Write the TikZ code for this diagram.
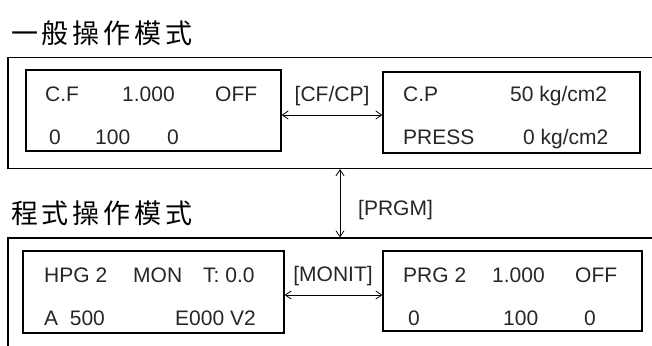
\documentclass[tikz,border=0pt]{standalone}
\usepackage{fontspec}
\setmainfont{Liberation Sans}
\newfontfamily\cjk[LetterSpace=14]{Noto Sans CJK TC}
\usetikzlibrary{arrows.meta}

\newcommand*{\picW}{652}
\newcommand*{\picH}{345}
\newcommand*{\arrowX}{340}

\tikzset{
  frame/.style={draw, line width=1.1pt, inner sep=0pt, minimum width=700},
  lcd/.style={draw, line width=1.1pt, inner sep=0pt},
  txt/.style={anchor=base west, inner sep=0pt, text=black!85, font=\fontsize{21}{21}\selectfont},
  key/.style={anchor=base, inner sep=0pt, text=black!85, font=\fontsize{21}{21}\selectfont},
  title/.style={anchor=west, inner sep=0pt, font=\fontsize{27}{27}\selectfont\cjk},
  toggle/.style={{Straight Barb[length=6pt,width=8pt]}-{Straight Barb[length=6pt,width=8pt]}, line width=0.8pt}
}

\begin{document}
\begin{tikzpicture}[x=1pt,y=-1pt]
\useasboundingbox (0,0) rectangle (\picW,\picH);
\clip (0,0) rectangle (\picW,\picH);

% mode titles and frames
\node[title] (normal) at (11,33) {一般操作模式};
\node[title] (prog) at (11,213) {程式操作模式};
\node[frame, minimum height=111] (normalframe) at (358,113) {};
\node[frame, minimum height=162] (progframe) at (358,319) {};

% display boxes
\node[lcd, minimum width=255, minimum height=81] (cf) at (153.5,110.5) {};
\node[lcd, minimum width=257, minimum height=81] (cp) at (511.5,112.5) {};
\node[lcd, minimum width=261, minimum height=82] (hpg) at (153.5,292) {};
\node[lcd, minimum width=259, minimum height=80] (prg) at (512.5,291) {};

% display texts
\node[txt] (cf1) at (45,101) {C.F};
\node[txt] (cf2) at (122,101) {1.000};
\node[txt] (cf3) at (215,101) {OFF};
\node[txt] (cf4) at (49,144) {0};
\node[txt] (cf5) at (95,144) {100};
\node[txt] (cf6) at (167,144) {0};

\node[txt] (cp1) at (403,101) {C.P};
\node[txt] (cp2) at (510,101) {50 kg/cm2};
\node[txt] (cp3) at (403,144) {PRESS};
\node[txt] (cp4) at (523,144) {0 kg/cm2};

\node[txt] (hpg1) at (44,282) {HPG 2};
\node[txt] (hpg2) at (133,282) {MON};
\node[txt] (hpg3) at (203,282) {T: 0.0};
\node[txt] (hpg4) at (44,325) {A\ \ 500};
\node[txt] (hpg5) at (175,325) {E000 V2};

\node[txt] (prg1) at (403,282) {PRG 2};
\node[txt] (prg2) at (492,282) {1.000};
\node[txt] (prg3) at (575,282) {OFF};
\node[txt] (prg4) at (408,325) {0};
\node[txt] (prg5) at (503,325) {100};
\node[txt] (prg6) at (584,325) {0};

% keys
\node[key] (cfcp) at (332,101) {[CF/CP]};
\node[key] (monit) at (333,281) {[MONIT]};
\node[txt] (prgm) at (358,215) {[PRGM]};
\coordinate (prgmx) at (\arrowX,200);

\draw[toggle] ([yshift=-4.5pt]cf.east) -- ([yshift=-2.5pt]cp.west);
\draw[toggle] ([yshift=-3pt]hpg.east) -- ([yshift=-4pt]prg.west);
\draw[toggle] (normalframe.south -| prgmx) -- (progframe.north -| prgmx);

\end{tikzpicture}
\end{document}
